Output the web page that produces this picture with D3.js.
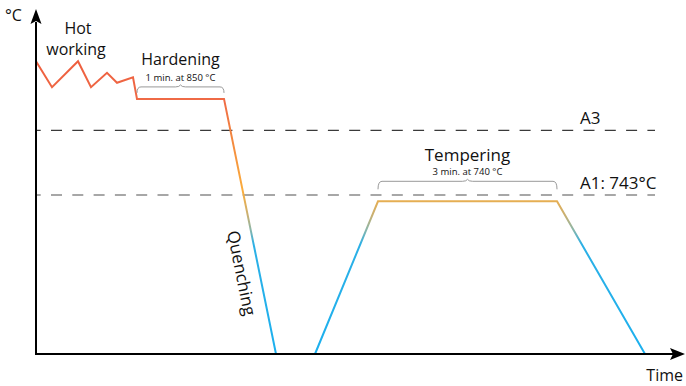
<!DOCTYPE html>
<html>
<head>
<meta charset="utf-8">
<script src="https://cdn.jsdelivr.net/npm/d3@7"></script>
<style>
  html, body { margin: 0; padding: 0; background: #fff; }
  svg { display: block; font-family: "Open Sans", "Noto Sans", sans-serif; }
</style>
</head>
<body>
<svg id="chart" width="686" height="386"></svg>
<script>
// ---- data (schematic time / temperature in °C) ----
const processTime = [0, 16, 42, 55, 71, 81, 97, 101, 188, 240];
const processTemp = [892, 863, 892, 863, 879, 868, 874, 850, 850, 566];
const temperTime = [279, 342, 521, 609];
const temperTemp = [566, 736, 736, 566];
const refLevels = [815, 743];
const refLabels = ["A3", "A1: 743°C"];
const hardening = { label: "Hardening", note: "1 min. at 850 °C", t0: 101, t1: 188, temp: 850 };
const tempering = { label: "Tempering", note: "3 min. at 740 °C", t0: 342, t1: 521, temp: 736 };
const axisLabels = { y: "°C", x: "Time" };

const svg = d3.select("#chart");
const x = d3.scaleLinear().domain([0, 647]).range([36, 683]);
const y = d3.scaleLinear().domain([566, 949]).range([354, 10]);

// gradient along temperature
const defs = svg.append("defs");
const grad = defs.append("linearGradient")
  .attr("id", "tempGrad").attr("gradientUnits", "userSpaceOnUse")
  .attr("x1", 0).attr("x2", 0).attr("y1", y(949)).attr("y2", y(566));
const gStops = [
  [y(892), "#ee5e3e"], [y(850), "#ef6a46"], [y(810), "#f2843f"],
  [y(748), "#fbad3c"], [y(720), "#c8b073"], [y(705), "#8db6a8"],
  [y(688), "#2cb0e6"], [y(566), "#1cb0ee"]
];
gStops.forEach(([off, c]) => {
  grad.append("stop").attr("offset", (off - y(949)) / (y(566) - y(949))).attr("stop-color", c);
});

// reference dashed lines
const refColors = ["#3a3a3a", "#8a8a8a"];
refLevels.forEach((v, i) => {
  svg.append("line")
    .attr("x1", x(0)).attr("x2", 655)
    .attr("y1", y(v)).attr("y2", y(v))
    .attr("stroke", refColors[i]).attr("stroke-width", 1.3)
    .attr("stroke-dasharray", "11,10.3").attr("stroke-dashoffset", 6.3);
  svg.append("text").attr("x", 580).attr("y", y(v) - 6)
    .attr("font-size", 17).attr("fill", "#111").text(refLabels[i]);
});

const line = d3.line().x(d => x(d[0])).y(d => y(d[1]));
svg.append("path")
  .datum(d3.zip(processTime, processTemp))
  .attr("d", line).attr("fill", "none")
  .attr("stroke", "url(#tempGrad)").attr("stroke-width", 2)
  .attr("stroke-linejoin", "miter");
svg.append("path")
  .datum(d3.zip(temperTime, temperTemp))
  .attr("d", line).attr("fill", "none")
  .attr("stroke", "url(#tempGrad)").attr("stroke-width", 2);

// braces
function brace(xa, xb, yb, h) {
  const xm = (xa + xb) / 2, r = 4;
  const yt = yb - h;
  return `M${xa},${yb} Q${xa},${yt} ${xa + r},${yt} L${xm - 5},${yt} Q${xm - 1},${yt} ${xm},${yt - 2} Q${xm + 1},${yt} ${xm + 5},${yt} L${xb - r},${yt} Q${xb},${yt} ${xb},${yb}`;
}
svg.append("path")
  .attr("d", brace(x(hardening.t0), x(hardening.t1), y(hardening.temp) - 6, 6))
  .attr("fill", "none").attr("stroke", "#999").attr("stroke-width", 1);
svg.append("path")
  .attr("d", brace(x(tempering.t0), x(tempering.t1), y(tempering.temp) - 12, 8))
  .attr("fill", "none").attr("stroke", "#999").attr("stroke-width", 1);

// annotations
const hx = (x(hardening.t0) + x(hardening.t1)) / 2;
svg.append("text").attr("x", hx).attr("y", y(hardening.temp) - 34)
  .attr("text-anchor", "middle").attr("font-size", 16).attr("fill", "#111").text(hardening.label);
svg.append("text").attr("x", hx).attr("y", y(hardening.temp) - 18)
  .attr("text-anchor", "middle").attr("font-size", 9.5).attr("fill", "#111").text(hardening.note);
const tx = (x(tempering.t0) + x(tempering.t1)) / 2;
svg.append("text").attr("x", tx).attr("y", y(tempering.temp) - 40)
  .attr("text-anchor", "middle").attr("font-size", 17).attr("fill", "#111").text(tempering.label);
svg.append("text").attr("x", tx).attr("y", y(tempering.temp) - 26)
  .attr("text-anchor", "middle").attr("font-size", 9.5).attr("fill", "#111").text(tempering.note);

svg.append("text").attr("x", 78).attr("y", 34).attr("text-anchor", "middle")
  .attr("font-size", 16).attr("fill", "#111").text("Hot");
svg.append("text").attr("x", 76).attr("y", 55).attr("text-anchor", "middle")
  .attr("font-size", 16).attr("fill", "#111").text("working");

// Quenching label rotated along the line
const q0 = [x(188), y(850)], q1 = [x(240), y(566)];
const ang = Math.atan2(q1[1] - q0[1], q1[0] - q0[0]) * 180 / Math.PI;
svg.append("text")
  .attr("transform", `translate(242,273) rotate(${ang})`)
  .attr("text-anchor", "middle").attr("dominant-baseline", "central")
  .attr("font-size", 17).attr("fill", "#111").text("Quenching");

// axes
svg.append("line").attr("x1", x(0)).attr("x2", 674).attr("y1", y(566)).attr("y2", y(566))
  .attr("stroke", "#000").attr("stroke-width", 2);
svg.append("line").attr("x1", x(0)).attr("x2", x(0)).attr("y1", y(566) + 1).attr("y2", 22)
  .attr("stroke", "#000").attr("stroke-width", 2);
svg.append("path").attr("d", `M${x(0)},9 L${x(0) + 5.5},24 L${x(0)},21 L${x(0) - 5.5},24 Z`).attr("fill", "#000");
svg.append("path").attr("d", `M685,${y(566)} L670,${y(566) - 6} L673,${y(566)} L670,${y(566) + 6} Z`).attr("fill", "#000");
svg.append("text").attr("x", 5).attr("y", 21).attr("font-size", 16).attr("fill", "#111").text(axisLabels.y);
svg.append("text").attr("x", 683).attr("y", 381).attr("text-anchor", "end")
  .attr("font-size", 16).attr("fill", "#111").text(axisLabels.x);
</script>
</body>
</html>
